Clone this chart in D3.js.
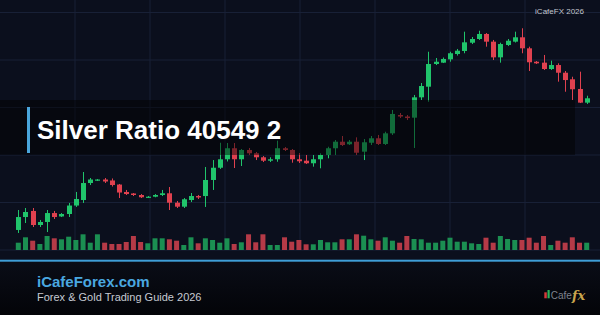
<!DOCTYPE html>
<html>
<head>
<meta charset="utf-8">
<script src="https://cdn.jsdelivr.net/npm/d3@7"></script>
<style>
  html, body { margin: 0; padding: 0; background: #0b0f1d; }
  svg { display: block; }
</style>
</head>
<body>
<div id="chart"></div>
<script>
// candle data, one entry per session
const opens = [72.11, 73.47, 74.11, 72.63, 72.95, 73.89, 73.53, 73.79, 74.68, 75.26,
  77.05, 77.32, 77.42, 77.32, 76.89, 76.11, 75.95, 75.79, 75.51, 75.61,
  75.79, 75.97, 74.98, 74.56, 75.26, 75.68, 75.68, 77.37, 78.66, 79.55,
  80.71, 79.55, 80.53, 80.18, 79.76, 79.40, 79.55, 80.71, 80.53, 79.55,
  79.40, 79.13, 79.55, 80.00, 80.71, 81.40, 81.13, 81.40, 80.35, 81.29,
  81.76, 81.16, 82.28, 84.21, 84.05, 83.93, 86.07, 87.19, 89.58, 89.72,
  90.07, 90.63, 90.95, 91.82, 92.21, 92.74, 91.93, 90.28, 91.58, 91.93,
  92.39, 91.23, 89.82, 89.72, 89.05, 89.47, 88.66, 87.97, 86.95, 85.51];
const highs = [74.21, 74.42, 74.42, 73.16, 74.21, 74.11, 73.89, 74.95, 76.11, 78.21,
  77.58, 77.47, 77.58, 77.53, 76.95, 76.32, 76.00, 75.89, 75.68, 75.89,
  76.32, 76.63, 75.16, 75.47, 76.00, 75.79, 78.74, 79.47, 81.29, 81.26,
  81.26, 80.63, 80.74, 80.32, 79.89, 79.76, 81.51, 80.84, 80.63, 80.21,
  80.00, 80.00, 80.18, 80.87, 81.58, 82.00, 81.58, 81.86, 81.68, 82.00,
  82.11, 82.45, 84.74, 84.42, 84.21, 86.32, 87.58, 90.87, 90.21, 90.26,
  90.87, 91.16, 92.98, 92.42, 93.08, 92.84, 92.11, 91.82, 92.21, 92.98,
  93.34, 91.40, 89.89, 90.53, 89.93, 89.65, 88.84, 88.24, 88.77, 86.24];
const lows = [71.79, 72.84, 72.42, 72.42, 71.89, 73.26, 73.47, 73.47, 74.53, 74.95,
  76.84, 77.26, 77.05, 76.68, 75.47, 75.79, 75.68, 75.47, 75.47, 75.55,
  75.68, 74.21, 74.42, 74.42, 75.05, 75.37, 74.53, 76.32, 78.53, 79.32,
  78.63, 78.84, 80.00, 79.47, 79.26, 79.26, 79.29, 80.42, 79.19, 79.16,
  79.05, 78.77, 78.60, 79.65, 80.00, 80.95, 81.05, 80.00, 79.47, 81.05,
  81.05, 81.05, 82.11, 83.89, 83.68, 80.74, 85.79, 85.61, 89.47, 89.68,
  89.82, 90.47, 90.71, 91.68, 92.11, 91.40, 90.00, 89.72, 91.47, 91.84,
  90.71, 88.84, 89.58, 88.95, 88.95, 87.72, 86.66, 85.79, 85.47, 85.37];
const closes = [73.47, 74.00, 72.63, 72.95, 73.89, 73.47, 73.79, 74.68, 75.37, 77.05,
  77.42, 77.42, 77.21, 76.84, 76.05, 75.89, 75.79, 75.55, 75.61, 75.79,
  75.97, 74.98, 74.56, 75.34, 75.68, 75.53, 77.37, 78.66, 79.55, 80.71,
  79.55, 80.53, 80.18, 79.76, 79.40, 79.55, 80.71, 80.53, 79.55, 79.34,
  79.13, 79.55, 80.00, 80.71, 81.40, 81.05, 81.40, 80.24, 81.34, 81.76,
  81.16, 82.28, 84.32, 84.05, 83.89, 86.07, 87.26, 89.58, 89.82, 90.11,
  90.71, 90.98, 91.86, 92.21, 92.74, 91.93, 90.28, 91.68, 92.03, 92.39,
  91.23, 89.76, 89.65, 89.05, 89.47, 88.66, 87.89, 86.92, 85.51, 85.97];
const volumes = [730, 1270, 930, 600, 1400, 1170, 1070, 1330, 1000, 1570,
  730, 1570, 730, 600, 600, 800, 1400, 800, 670, 1170,
  1170, 1070, 930, 500, 1270, 670, 1170, 1000, 730, 1170,
  600, 770, 1570, 770, 1570, 500, 500, 1270, 830, 1000,
  570, 570, 1000, 770, 770, 1070, 1070, 1570, 1430, 1070,
  930, 1270, 930, 730, 1400, 1100, 1070, 730, 730, 930,
  1230, 830, 830, 670, 600, 1230, 730, 1400, 1100, 1000,
  1000, 1230, 730, 1400, 500, 930, 730, 1270, 730, 730];
const priceTicks = [70, 75, 80, 85, 90, 95];

const titleText = 'Silver Ratio 40549 2';
const siteText = 'iCafeForex.com';
const subText = 'Forex & Gold Trading Guide 2026';
const stampText = 'iCafeFX 2026';

const width = 600, height = 315;
const font = "'Liberation Sans', Arial, sans-serif";
const upColor = '#20c46b', downColor = '#e0414f';
const upVol = '#1b8f52', downVol = '#b53a47';

const svg = d3.select('#chart')
  .append('svg')
  .attr('width', width)
  .attr('height', height);

const defs = svg.append('defs');
const foot = defs.append('linearGradient')
  .attr('id', 'foot').attr('x1', 0).attr('y1', 0).attr('x2', 0).attr('y2', 1);
foot.append('stop').attr('offset', '0%').attr('stop-color', '#0a0d17');
foot.append('stop').attr('offset', '100%').attr('stop-color', '#030408');

svg.append('rect')
  .attr('width', width).attr('height', height)
  .attr('fill', '#0b0f1d');

// scales
const n = opens.length;
const x = d3.scaleLinear().domain([0, n - 1]).range([18.3, 586.7]);
const y = d3.scaleLinear().domain([70, 95]).range([250, 12.5]);
const vy = d3.scaleLinear().domain([0, 2000]).range([250, 230]);
const gx = d3.scaleLinear().domain([0, 8]).range([0, width]);

// grid
svg.append('g').selectAll('line')
  .data(priceTicks)
  .join('line')
  .attr('x1', 0).attr('x2', width)
  .attr('y1', d => y(d)).attr('y2', d => y(d))
  .attr('stroke', '#182036').attr('stroke-width', 1);

svg.append('g').selectAll('line')
  .data(d3.range(1, 8))
  .join('line')
  .attr('x1', d => gx(d)).attr('x2', d => gx(d))
  .attr('y1', 0).attr('y2', 250)
  .attr('stroke', '#182036').attr('stroke-width', 1);

// volume
const idx = d3.range(n);
const isUp = i => closes[i] >= opens[i];

svg.append('g').selectAll('rect')
  .data(idx)
  .join('rect')
  .attr('x', i => x(i) - 2.5)
  .attr('width', 5)
  .attr('y', i => vy(volumes[i]))
  .attr('height', i => vy(0) - vy(volumes[i]))
  .attr('fill', i => isUp(i) ? upVol : downVol);

// candles
const candles = svg.append('g');
candles.selectAll('line')
  .data(idx)
  .join('line')
  .attr('x1', i => Math.round(x(i)) + 0.5).attr('x2', i => Math.round(x(i)) + 0.5)
  .attr('y1', i => y(highs[i])).attr('y2', i => y(lows[i]))
  .attr('stroke', i => isUp(i) ? upColor : downColor)
  .attr('stroke-width', 1);

candles.selectAll('rect')
  .data(idx)
  .join('rect')
  .attr('x', i => Math.round(x(i)) - 2)
  .attr('width', 5)
  .attr('y', i => y(Math.max(opens[i], closes[i])))
  .attr('height', i => Math.max(1.2, Math.abs(y(opens[i]) - y(closes[i]))))
  .attr('fill', i => isUp(i) ? upColor : downColor);

// title band
svg.append('rect')
  .attr('x', 0).attr('y', 100)
  .attr('width', 575).attr('height', 55)
  .attr('fill', 'rgba(0,0,0,0.45)');

svg.append('rect')
  .attr('x', 27).attr('y', 107)
  .attr('width', 3).attr('height', 46)
  .attr('fill', '#4aa6dc');

svg.append('text')
  .attr('x', 37).attr('y', 139)
  .attr('font-family', font)
  .attr('font-weight', 'bold')
  .attr('font-size', 26)
  .attr('fill', '#ffffff')
  .text(titleText);

svg.append('text')
  .attr('x', 584).attr('y', 14)
  .attr('text-anchor', 'end')
  .attr('font-family', font)
  .attr('font-size', 8)
  .attr('fill', '#c2c6ce')
  .text(stampText);

// footer
svg.append('rect')
  .attr('x', 0).attr('y', 261)
  .attr('width', width).attr('height', height - 261)
  .attr('fill', 'url(#foot)');

svg.append('rect')
  .attr('x', 0).attr('y', 259.7)
  .attr('width', width).attr('height', 2)
  .attr('fill', '#3f9fd8');

svg.append('text')
  .attr('x', 37).attr('y', 286.5)
  .attr('font-family', font)
  .attr('font-weight', 'bold')
  .attr('font-size', 15)
  .attr('fill', '#4aa8e0')
  .text(siteText);

svg.append('text')
  .attr('x', 37).attr('y', 301)
  .attr('font-family', font)
  .attr('font-size', 11)
  .attr('fill', '#c6cad2')
  .text(subText);

// small logo
const logo = svg.append('g');
logo.append('rect').attr('x', 544.3).attr('y', 292.3).attr('width', 2.5).attr('height', 6).attr('fill', '#d23a3a');
logo.append('rect').attr('x', 547.5).attr('y', 290).attr('width', 2.2).attr('height', 8.3).attr('fill', '#2bb35a');
logo.append('text')
  .attr('x', 550.7).attr('y', 298.5)
  .attr('font-family', font)
  .attr('font-size', 10)
  .attr('fill', '#7d828c')
  .text('Cafe');
logo.append('text')
  .attr('x', 572).attr('y', 299.5)
  .attr('font-family', "'DejaVu Serif', 'Liberation Serif', serif")
  .attr('font-style', 'italic')
  .attr('font-weight', 'bold')
  .attr('font-size', 13)
  .attr('fill', '#c9a54c')
  .text('fx');
</script>
</body>
</html>
